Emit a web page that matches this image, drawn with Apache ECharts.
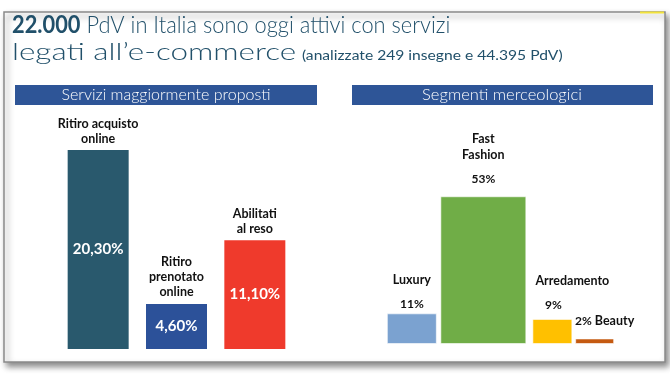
<!DOCTYPE html>
<html>
<head>
<meta charset="utf-8">
<script src="https://cdn.jsdelivr.net/npm/echarts@6/dist/echarts.min.js"></script>
<style>
  html, body { margin: 0; padding: 0; background: #fff; }
  #container { width: 670px; height: 377px; }
</style>
</head>
<body>
<div id="container"></div>
<script>
// servizi maggiormente proposti
var serviziCat = ['Ritiro acquisto\nonline', 'Ritiro\nprenotato\nonline', 'Abilitati\nal reso'];
var serviziVal = [20.3, 4.6, 11.1];
// segmenti merceologici
var segmentiCat = ['Luxury', 'Fast\nFashion', 'Arredamento', 'Beauty'];
var segmentiVal = [11, 53, 9, 2];

var FONT = 'Lato';
var serviziColors = ['#29596d', '#2c5199', '#ef3a2c'];
var segmentiColors = ['#7ba2d0', '#70ad47', '#ffc000', '#c55a11'];
var segmentiWidth = [50, 86, 40, 39];

var myChart = echarts.init(document.getElementById('container'));

function fmtServ(v) {
    return v.toFixed(2).replace('.', ',') + '%';
}

var series = [];
// valori dentro le barre
series.push({
    type: 'bar',
    xAxisIndex: 0, yAxisIndex: 0,
    barWidth: 61,
    barGap: '-100%',
    data: serviziVal.map(function (v, i) {
        return { value: v, itemStyle: { color: serviziColors[i] } };
    }),
    label: {
        show: true,
        position: 'inside',
        color: '#fff',
        fontFamily: FONT,
        fontWeight: 'bold',
        fontSize: 15,
        formatter: function (p) { return fmtServ(p.value); }
    }
});
// nomi sopra le barre
series.push({
    type: 'bar',
    xAxisIndex: 0, yAxisIndex: 0,
    barWidth: 61,
    barGap: '-100%',
    itemStyle: { color: 'transparent' },
    data: serviziVal,
    label: {
        show: true,
        position: 'top',
        distance: 4,
        color: '#111',
        fontFamily: FONT,
        fontWeight: 'bold',
        fontSize: 12.5,
        lineHeight: 15,
        formatter: function (p) { return serviziCat[p.dataIndex]; }
    }
});

// segmenti: una serie per segmento, affiancate nella stessa categoria
var segLabel = [
    { offset: [0, 4], fmt: function (n, v) { return '{n|' + n + '}\n{g|}\n{v|' + v + '}'; } },
    { offset: [0, -4], fmt: function (n, v) { return n.split('\n').map(function (s) { return '{n|' + s + '}'; }).join('\n') + '\n{g|}\n{v|' + v + '}'; } },
    { offset: [20, -1], fmt: function (n, v) { return '{n|' + n + '}\n{g|}\n{w|' + v + '}'; } },
    { offset: [10, -4], fmt: function (n, v) { return '{v|' + v + '} {n|' + n + '}'; } }
];
segmentiVal.forEach(function (v, i) {
    var d = [];
    d[0] = v;
    series.push({
        type: 'bar',
        name: segmentiCat[i],
        xAxisIndex: 1, yAxisIndex: 1,
        barWidth: segmentiWidth[i],
        barGap: '7%',
        itemStyle: { color: segmentiColors[i], borderColor: 'rgba(255,255,255,0.6)', borderWidth: 1 },
        data: d,
        label: {
            show: true,
            position: 'top',
            distance: 5,
            offset: segLabel[i].offset,
            color: '#111',
            fontFamily: FONT,
            fontWeight: 'bold',
            fontSize: 12,
            formatter: function (p) { return segLabel[i].fmt(segmentiCat[i], p.value + '%'); },
            rich: {
                n: { fontFamily: FONT, fontWeight: 'bold', fontSize: 12.5, lineHeight: 16, color: '#111' },
                v: { fontFamily: FONT, fontWeight: 'bold', fontSize: 12, lineHeight: 16, color: '#111' },
                w: { fontFamily: FONT, fontWeight: 'bold', fontSize: 12, lineHeight: 16, color: '#111', padding: [0, 38, 0, 0] },
                g: { lineHeight: 8, fontSize: 1 }
            }
        }
    });
});

var option = {
    animation: false,
    backgroundColor: '#fff',
    grid: [
        { left: 59, width: 235, top: 104, height: 245 },
        { left: 377, width: 247, top: 121, height: 223 }
    ],
    xAxis: [
        { gridIndex: 0, type: 'category', data: serviziCat, show: false },
        { gridIndex: 1, type: 'category', data: ['Segmenti'], show: false }
    ],
    yAxis: [
        { gridIndex: 0, type: 'value', min: 0, max: 25, show: false },
        { gridIndex: 1, type: 'value', min: 0, max: 80, show: false }
    ],
    graphic: [
        {   // cornice
            type: 'rect', z: -10,
            shape: { x: 4, y: 12, width: 661, height: 350 },
            style: { fill: '#fff', stroke: '#8a8a8a', lineWidth: 1.5,
                shadowBlur: 6, shadowOffsetX: 3, shadowOffsetY: 4, shadowColor: 'rgba(0,0,0,0.45)' }
        },
        {
            type: 'rect', z: -9,
            shape: { x: 640, y: 11.5, width: 24, height: 2 },
            style: { fill: '#f2e33a' }
        },
        {
            type: 'text', x: 12, y: 25, scaleX: 0.91,
            style: {
                text: '{b|22.000} PdV in Italia sono oggi attivi con servizi',
                fill: '#21506a', font: '300 24px ' + FONT, verticalAlign: 'middle',
                rich: { b: { fontFamily: FONT, fontWeight: 'bold', fontSize: 24, fill: '#21506a' } }
            }
        },
        {
            type: 'text', x: 12, y: 52, scaleX: 1.31,
            style: {
                text: 'legati all\u2019e-commerce',
                fill: '#21506a', font: '300 24px ' + FONT, verticalAlign: 'middle'
            }
        },
        {
            type: 'text', x: 302, y: 56, scaleX: 1.25,
            style: {
                text: '(analizzate 249 insegne e 44.395 PdV)',
                fill: '#21506a', font: '12.5px ' + FONT, verticalAlign: 'middle'
            }
        },
        {
            type: 'rect',
            shape: { x: 15, y: 85, width: 302, height: 20 },
            style: { fill: '#2e5597' }
        },
        {
            type: 'text', x: 166, y: 95,
            style: { text: 'Servizi maggiormente proposti', fill: '#fff', font: '300 16px ' + FONT, align: 'center', verticalAlign: 'middle' }
        },
        {
            type: 'rect',
            shape: { x: 352, y: 85, width: 301, height: 20 },
            style: { fill: '#2e5597' }
        },
        {
            type: 'text', x: 502, y: 95,
            style: { text: 'Segmenti merceologici', fill: '#fff', font: '300 16.5px ' + FONT, align: 'center', verticalAlign: 'middle' }
        }
    ],
    series: series
};

if (option && typeof option === "object") {
    myChart.setOption(option, true);
}
</script>
</body>
</html>
